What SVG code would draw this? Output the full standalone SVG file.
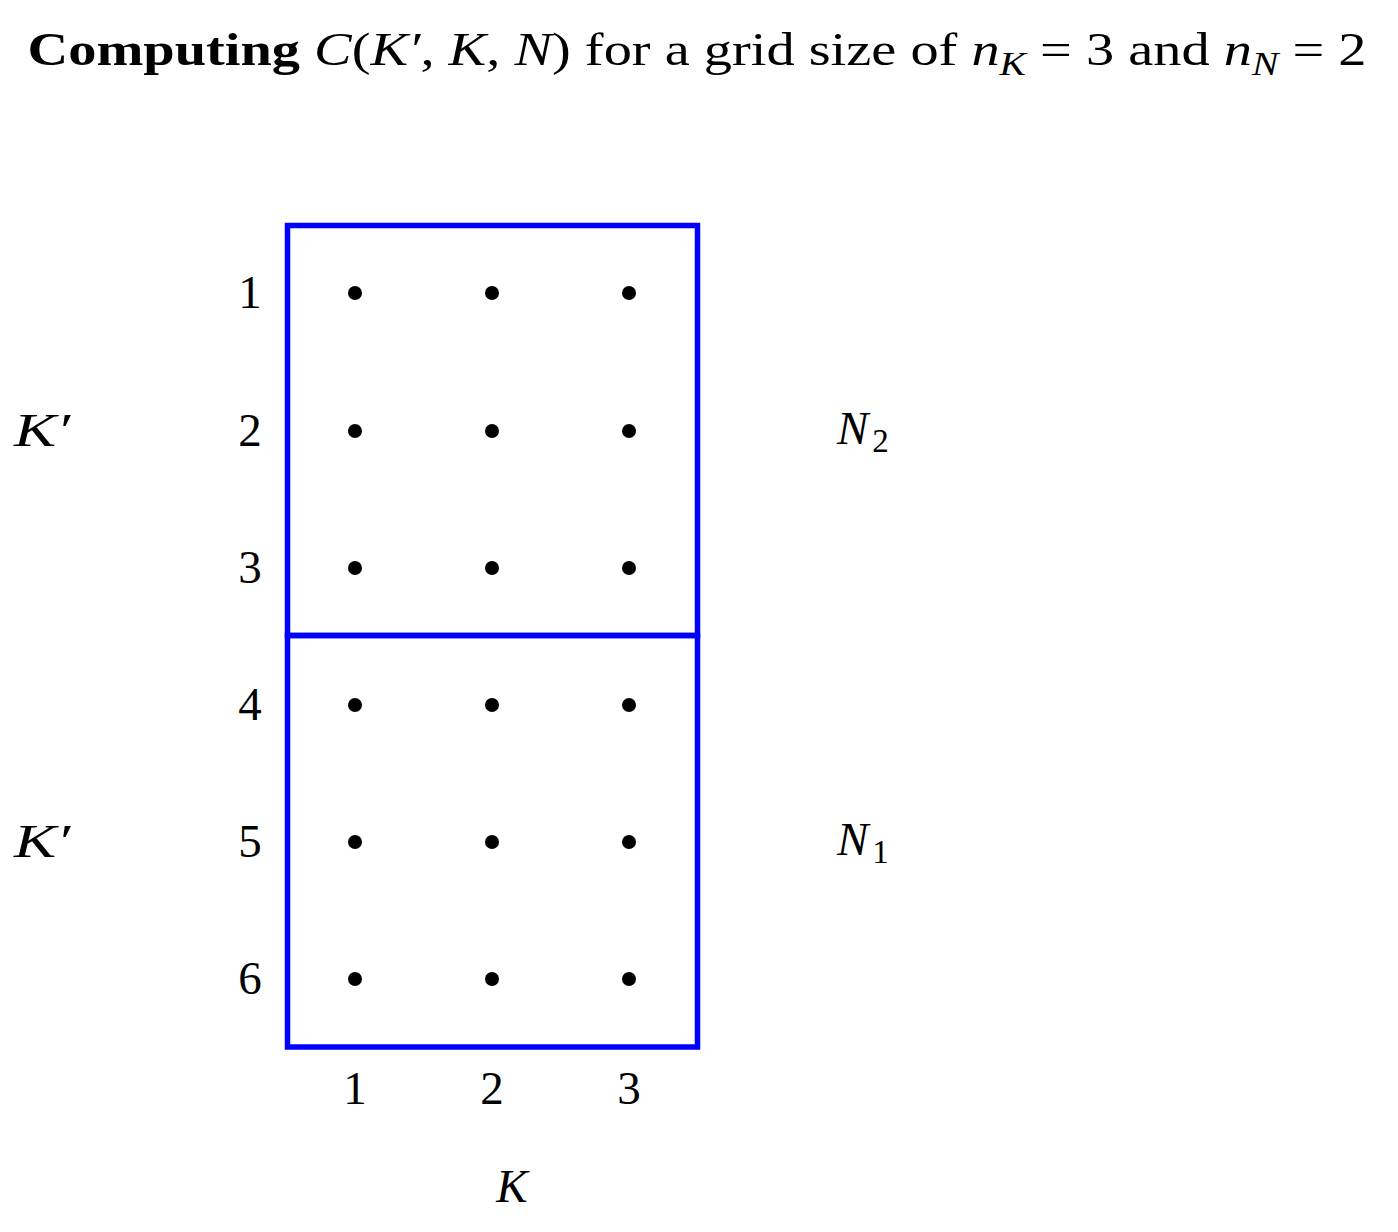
<svg xmlns="http://www.w3.org/2000/svg" width="1398" height="1232" viewBox="0 0 1398 1232">
<style>
text{font-family:"Liberation Serif","DejaVu Serif",serif;font-size:47px;fill:#000}
.it{font-style:italic}
.b{font-weight:bold}
.box{fill:none;stroke:#0000ff;stroke-width:5.5}
.dot{fill:#000}
</style>
<rect width="1398" height="1232" fill="#fff"/>
<text id="title" x="697" y="65" text-anchor="middle" textLength="1339" lengthAdjust="spacingAndGlyphs"><tspan class="b">Computing</tspan> <tspan class="it">C</tspan>(<tspan class="it">K′</tspan>, <tspan class="it">K</tspan>, <tspan class="it">N</tspan>) for a grid size of <tspan class="it">n</tspan><tspan class="it" font-size="33" dy="10">K</tspan><tspan dy="-10"> = 3 and </tspan><tspan class="it">n</tspan><tspan class="it" font-size="33" dy="10">N</tspan><tspan dy="-10"> = 2</tspan></text>
<g id="block-N2">
<rect class="box" x="287.5" y="225.5" width="410" height="410"/>
</g>
<g id="block-N1">
<rect class="box" x="287.5" y="635.5" width="410" height="411.5"/>
</g>
<g id="dots">
<circle class="dot" cx="355" cy="293" r="7"/><circle class="dot" cx="492" cy="293" r="7"/><circle class="dot" cx="629" cy="293" r="7"/>
<circle class="dot" cx="355" cy="431" r="7"/><circle class="dot" cx="492" cy="431" r="7"/><circle class="dot" cx="629" cy="431" r="7"/>
<circle class="dot" cx="355" cy="568" r="7"/><circle class="dot" cx="492" cy="568" r="7"/><circle class="dot" cx="629" cy="568" r="7"/>
<circle class="dot" cx="355" cy="705" r="7"/><circle class="dot" cx="492" cy="705" r="7"/><circle class="dot" cx="629" cy="705" r="7"/>
<circle class="dot" cx="355" cy="842" r="7"/><circle class="dot" cx="492" cy="842" r="7"/><circle class="dot" cx="629" cy="842" r="7"/>
<circle class="dot" cx="355" cy="979" r="7"/><circle class="dot" cx="492" cy="979" r="7"/><circle class="dot" cx="629" cy="979" r="7"/>
</g>
<g id="row-labels" text-anchor="middle">
<text x="250" y="308">1</text>
<text x="250" y="446">2</text>
<text x="250" y="583">3</text>
<text x="250" y="720">4</text>
<text x="250" y="857">5</text>
<text x="250" y="994">6</text>
</g>
<g id="col-labels" text-anchor="middle">
<text x="355" y="1104">1</text>
<text x="492" y="1104">2</text>
<text x="629" y="1104">3</text>
</g>
<g id="axis-labels">
<text class="it" x="14" y="446" textLength="56" lengthAdjust="spacingAndGlyphs">K′</text>
<text class="it" x="14" y="857" textLength="56" lengthAdjust="spacingAndGlyphs">K′</text>
<text class="it" x="512" y="1202" text-anchor="middle">K</text>
<text x="837" y="444"><tspan class="it">N</tspan><tspan font-size="33" dx="4" dy="8">2</tspan></text>
<text x="837" y="855"><tspan class="it">N</tspan><tspan font-size="33" dx="4" dy="8">1</tspan></text>
</g>
<g id="connectors"></g>
</svg>
